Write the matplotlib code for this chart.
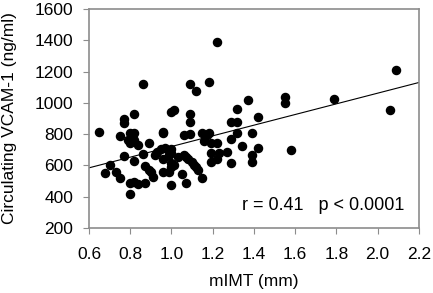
import matplotlib
matplotlib.use("Agg")
import matplotlib.pyplot as plt
import numpy as np

plt.rcParams['font.family'] = ['Liberation Sans', 'DejaVu Sans']

# mIMT (mm) vs circulating VCAM-1 (ng/ml)
mimt = [0.65, 0.75, 0.77, 0.77, 0.82, 0.86, 0.80, 0.82, 0.81, 0.79,
        0.82, 0.80, 0.84, 0.89, 0.96, 0.96, 1.00, 1.01, 1.09, 1.12,
        1.18, 1.22, 1.09, 1.09, 1.06, 1.09, 1.15, 1.18, 1.17, 1.16,
        1.19, 1.22, 1.29, 1.32, 1.32, 1.37, 1.42, 1.32, 1.39, 1.29,
        1.34, 1.42, 1.58, 1.55, 1.55, 1.79, 2.06, 2.09, 1.39, 1.39,
        1.29, 1.27, 1.19, 1.23, 1.22, 1.19, 1.15, 1.07, 1.05, 1.00,
        0.77, 0.86, 0.70, 0.68, 0.73, 0.75, 0.82, 0.87, 0.89, 0.90,
        0.91, 0.80, 0.82, 0.84, 0.87, 0.80, 0.92, 0.93, 0.95, 0.97,
        0.99, 1.00, 0.96, 0.99, 0.96, 0.99, 1.00, 1.01, 1.03, 1.06,
        1.07, 1.08, 1.10, 1.11, 1.12, 1.13, 1.00, 1.00]
vcam = [815, 787, 869, 895, 927, 1118, 805, 805, 784, 763,
        763, 741, 730, 741, 815, 805, 943, 954, 1118, 1078,
        1135, 1387, 927, 876, 794, 801, 809, 809, 794, 756,
        741, 745, 876, 876, 959, 1018, 911, 809, 809, 770,
        724, 709, 700, 1035, 1001, 1027, 952, 1210, 665, 624,
        613, 688, 681, 677, 639, 620, 522, 486, 543, 475,
        662, 673, 600, 549, 560, 522, 627, 594, 573, 560,
        528, 489, 496, 483, 489, 416, 667, 686, 707, 709,
        690, 703, 640, 667, 560, 560, 588, 603, 656, 667,
        656, 639, 624, 603, 588, 571, 677, 613]

# regression line as printed
slope = 341
intercept = 380
fit_x = [0.6, 2.2]

x_ticks = [0.6, 0.8, 1.0, 1.2, 1.4, 1.6, 1.8, 2.0, 2.2]
y_ticks = [200, 400, 600, 800, 1000, 1200, 1400, 1600]

fig = plt.figure(figsize=(4.33, 2.93), dpi=100)
ax = fig.add_axes([0.2055, 0.2218, 0.762, 0.7475])

ax.scatter(mimt, vcam, s=34, color='black', zorder=3)
ax.plot(fit_x, [intercept + slope * v for v in fit_x], color='black', lw=0.8)

ax.set_xlim(0.6, 2.2)
ax.set_ylim(200, 1600)
ax.set_xticks(x_ticks)
ax.set_xticklabels([f'{v:.1f}' for v in x_ticks])
ax.set_yticks(y_ticks)

for s in ax.spines.values():
    s.set_color('#8c8c8c')
    s.set_linewidth(1.2)
ax.tick_params(direction='out', length=4, color='#8c8c8c', labelsize=12.5)
ax.tick_params(axis='x', pad=10)
ax.tick_params(axis='y', pad=7.5)

ax.set_xlabel('mIMT (mm)', fontsize=12.5)
ax.set_ylabel('Circulating VCAM-1 (ng/ml)', fontsize=12.5)
ax.xaxis.set_label_coords(0.5, -0.212)
ax.yaxis.set_label_coords(-0.218, 0.5)

ax.text(0.955, 0.105, 'r = 0.41   p < 0.0001', transform=ax.transAxes,
        ha='right', va='center', fontsize=13)

fig.savefig('out.png', dpi=100)
